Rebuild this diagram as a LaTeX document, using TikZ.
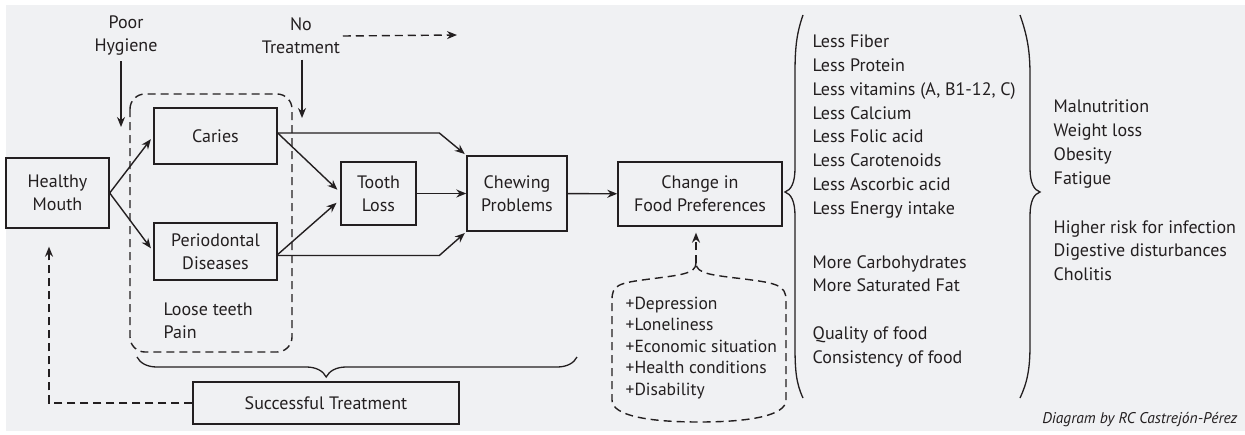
\documentclass[tikz,border=0pt]{standalone}
\usepackage{fontspec}
\setmainfont{PT Sans}
\usetikzlibrary{arrows.meta,decorations.pathreplacing,calc}
\definecolor{bggray}{HTML}{F0F1F3}
\definecolor{ink}{HTML}{231F20}

\begin{document}
\begin{tikzpicture}[x=1pt,y=-1pt,line width=1.4pt,draw=ink,
  every node/.style={text=ink,font=\fontsize{18}{23}\selectfont},
  box/.style={draw,inner sep=0pt,align=center},
  lbl/.style={inner sep=0pt,align=center},
  lst/.style={inner sep=0pt,align=left,anchor=west},
  arr/.style={-{Stealth[length=10pt,width=8pt]}},
  dsh/.style={dash pattern=on 8pt off 5pt}]
\useasboundingbox (0,0) rectangle (1245,434);
\fill[bggray] (6,5) rectangle (1245,431);
% boxes of the chain
\node[box,minimum width=103pt,minimum height=70pt] (mouth) at (57.5,193) {Healthy\\Mouth};
\node[box,minimum width=123pt,minimum height=56pt] (caries) at (215.5,136) {Caries};
\node[box,minimum width=123pt,minimum height=57pt] (perio) at (215.5,251.5) {Periodontal\\Diseases};
\node[box,minimum width=75pt,minimum height=63pt] (loss) at (378.5,193.5) {Tooth\\Loss};
\node[box,minimum width=100pt,minimum height=75pt] (chew) at (517,193.5) {Chewing\\Problems};
\node[box,minimum width=164pt,minimum height=64pt] (change) at (700,194) {Change in\\Food Preferences};
\node[box,minimum width=266pt,minimum height=42pt] (treat) at (326,403) {Successful Treatment};
% labels
\node[lbl] (hyg) at (126,36) {Poor\\Hygiene};
\node[lbl] (notreat) at (301,36) {No\\Treatment};
\node[lst] (loose) at (163,321) {Loose teeth\\Pain};
\node[lst,font=\fontsize{17.5}{21.5}\selectfont] (factors) at (625,348) {+Depression\\+Loneliness\\+Economic situation\\+Health conditions\\+Disability};
\node[lst,font=\fontsize{18}{23.9}\selectfont] (dieta) at (812,126.5) {Less Fiber\\Less Protein\\Less vitamins (A, B1-12, C)\\Less Calcium\\Less Folic acid\\Less Carotenoids\\Less Ascorbic acid\\Less Energy intake};
\node[lst,font=\fontsize{18}{23.5}\selectfont] (dietb) at (812,273.5) {More Carbohydrates\\More Saturated Fat};
\node[lst,font=\fontsize{18}{23.5}\selectfont] (dietc) at (812,347) {Quality of food\\Consistency of food};
\node[lst,font=\fontsize{18}{23.9}\selectfont] (effa) at (1053,144) {Malnutrition\\Weight loss\\Obesity\\Fatigue};
\node[lst,font=\fontsize{18}{23.5}\selectfont] (effb) at (1053,250.5) {Higher risk for infection\\Digestive disturbances\\Cholitis};
\node[inner sep=0pt,anchor=east,font=\fontsize{15.5}{18}\selectfont\itshape] (credit) at (1238,420) {Diagram by RC Castrejón-Pérez};
% free ends
\coordinate (hygtip) at (121,127);
\coordinate (notip) at (302,118);
\coordinate (goon) at (457,35);
\coordinate (peak) at (696,263);
\coordinate (back) at (49,403);
% dashed groups
\draw[dsh,rounded corners=15pt] (130,94) rectangle (292,352);
\draw[dsh] (peak) .. controls (696,274) and (680,275) .. (650,279)
  .. controls (618,283) and (612,285) .. (612,300) -- (612,400)
  .. controls (612,416) and (650,422) .. (699,422)
  .. controls (748,422) and (786,416) .. (786,400) -- (786,300)
  .. controls (786,285) and (776,283) .. (744,279)
  .. controls (712,275) and (696,274) .. (peak);
% braces
\draw[line width=1.3pt] (803,15) .. controls (796,35) and (795,50) .. (795,75) -- (795,168)
  .. controls (795,183) and (791,190) .. (785,192) .. controls (791,194) and (795,201) .. (795,216)
  -- (795,345) .. controls (795,370) and (796,383) .. (803,398);
\draw[line width=1.3pt] (1020,15) .. controls (1027,35) and (1030,50) .. (1030,75) -- (1030,168)
  .. controls (1030,183) and (1034,190) .. (1040,192) .. controls (1034,194) and (1030,201) .. (1030,216)
  -- (1030,345) .. controls (1030,370) and (1027,383) .. (1020,398);
\draw[line width=1.3pt,decorate,decoration={brace,mirror,amplitude=20pt,aspect=0.43}] (137,357) -- (577,357);
% connectors
\draw[arr] (hygtip |- hyg.south) ++(0,5) -- (hygtip);
\draw[arr] (notip |- notreat.south) ++(0,5) -- (notip);
\draw[arr,dsh] (notreat.east) ++(2,0) -- (goon);
\draw[arr,shorten >=4pt] (mouth.east) -- (caries.west);
\draw[arr,shorten >=4pt] (mouth.east) -- (perio.west);
\draw[arr,shorten >=4pt] ([yshift=3pt]caries.east) -- ([yshift=1pt]loss.west);
\draw[arr,shorten >=5pt] ([yshift=-3pt]perio.east) -- ([yshift=-6pt]loss.west);
\draw[arr,shorten >=2pt] ([yshift=3pt]caries.east) -- ([xshift=-27pt,yshift=3pt]caries.east -| chew.west) -- (chew.north west);
\draw[arr,shorten >=2pt] ([yshift=-4pt]perio.east) -- ([xshift=-27pt,yshift=-4pt]perio.east -| chew.west) -- (chew.south west);
\draw[arr] (loss) -- (chew);
\draw[arr] (chew) -- (change);
\draw[arr,dsh,shorten >=6pt] (peak) -- (peak |- change.south);
\draw[arr,dsh,shorten >=18pt] (treat.west) -| (back |- mouth.south);
\end{tikzpicture}
\end{document}
